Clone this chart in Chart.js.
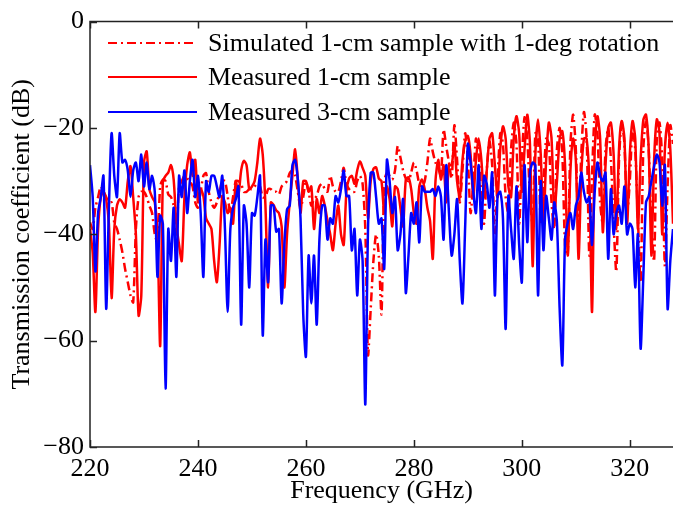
<!DOCTYPE html>
<html>
<head>
<meta charset="utf-8">
<script src="https://cdn.jsdelivr.net/npm/chart.js@4.4.0/dist/chart.umd.min.js"></script>
<style>
  html, body { margin: 0; padding: 0; background: #fff; }
  canvas { display: block; }
</style>
</head>
<body>
<canvas id="chart" width="673" height="507"></canvas>
<script>
// readings taken every 0.5 GHz from 220 GHz
const fStart = 220, fStep = 0.5;
const xTicks = [220, 240, 260, 280, 300, 320];
const yTicks = [-80, -60, -40, -20, 0];
const names = [
  'Simulated 1-cm sample with 1-deg rotation',
  'Measured 1-cm sample',
  'Measured 3-cm sample'
];

const simulated1cm = [
  -37.8, -39, -35, -33, -31, -32, -33, -34, -34, -37.8,
  -39, -41, -43.4, -46.5, -49, -51.5, -52.8, -39, -33, -32,
  -32, -33, -34.6, -36, -40, -41.5, -31, -29.7, -30, -32.5,
  -33, -34.6, -40, -31, -30, -29, -29.5, -30, -31, -34,
  -35, -32, -29, -28.5, -32, -34, -35, -34, -32, -30,
  -30, -32.8, -36, -33, -30, -30, -30.5, -32, -32, -31.5,
  -31.5, -31, -30.5, -31, -33, -33, -31.5, -31.5, -32, -32,
  -32.5, -31, -30.5, -30, -28.5, -28, -29, -32, -35, -33,
  -30, -32, -34.6, -33.4, -32.8, -31, -30.5, -31.5, -32, -29,
  -31, -32, -32, -30, -27.5, -30.5, -31.5, -32, -32, -30,
  -29, -30.5, -39, -62.7, -54, -45, -40, -44, -55, -30,
  -28.5, -29, -29.7, -28, -23.4, -25.5, -28, -29.5, -30, -28.4,
  -26.5, -28, -30.5, -31, -30, -26.5, -22, -24.5, -26.5, -27.5,
  -29, -20.3, -23.5, -26.5, -29.5, -19.5, -26, -34, -28, -21,
  -26, -36, -30, -22, -25, -33, -38, -28, -22.5, -27,
  -40, -30, -21, -23, -33, -36, -24, -19, -23, -38,
  -26, -18, -22, -33, -38, -21, -22, -38, -31, -22,
  -23, -34, -39, -24, -20, -25, -42, -44, -23, -17.5,
  -24, -40, -25, -17, -22, -44, -29, -17.5, -21, -34,
  -38, -24, -20, -26, -38, -47, -26, -19, -23, -36,
  -30, -20, -24, -37, -49, -24, -18.5, -24, -38, -45,
  -22, -19, -26, -46, -31, -19.5, -23
];

const measured1cm = [
  -39, -43.5, -54.6, -39, -33, -32, -33.4, -38, -52, -39,
  -34.6, -33.4, -34, -35, -30, -27.2, -33, -40, -55.3, -51.5,
  -26.5, -24.4, -31.5, -33, -34, -40, -61, -30, -29, -28.4,
  -27, -29.7, -38, -42, -45, -33, -27, -24.6, -29, -26,
  -34, -31.5, -32.8, -37, -38, -39, -45, -49, -42, -32.8,
  -34, -36, -35, -38, -30, -32.5, -28, -26.2, -27, -31.5,
  -31, -30, -26.5, -22, -25, -34.6, -50, -34, -34.5, -35.5,
  -36, -38.5, -50, -40, -34, -29, -24, -29.7, -36, -30,
  -30, -32, -31, -39, -33.4, -36, -32.8, -34.6, -37.5, -40,
  -43, -38, -34.6, -40, -42, -32, -29.5, -29, -30.5, -28,
  -26.3, -27.5, -29, -37, -30, -27.7, -27.4, -29.5, -30, -36,
  -31, -33.4, -38.5, -31, -31.5, -35, -38.5, -29.7, -29.3, -31.5,
  -36, -38, -31, -29.7, -31.5, -35, -37.5, -44.6, -30, -26,
  -29.7, -27, -34, -27, -27, -23, -30, -33, -26, -22.5,
  -21.5, -25, -33, -26, -22, -26, -33, -28, -22, -21,
  -27, -33, -24, -19.7, -22, -31, -33, -22, -17.8, -21,
  -32, -24, -17.5, -23, -46, -25, -18.4, -25, -38, -26,
  -19, -22, -36, -30, -22, -20.6, -27, -44, -28, -22,
  -26, -44.6, -29, -22, -22, -30, -54.6, -24, -17.8, -22,
  -39.6, -27, -20, -19, -25, -39, -24, -18.7, -22, -38,
  -25, -18.7, -22, -39, -26, -18.5, -17.5, -24, -44, -26,
  -18.4, -21, -40, -24, -19, -24, -38
];

const measured3cm = [
  -27, -33, -47, -36, -33, -29, -54, -35, -21, -29,
  -33, -21, -26.5, -26, -28, -33, -28, -26.5, -30, -25,
  -31, -26.5, -31.5, -29, -32, -48, -36.5, -38, -69, -39,
  -45, -35, -48, -29, -33, -28, -36, -30, -26, -33,
  -29, -36, -48, -30, -32, -29, -29, -31, -33, -29,
  -39, -54.6, -39, -35, -33.4, -31, -57, -34.6, -38, -50,
  -36, -36.5, -33, -29, -59, -41, -49, -34.6, -34.6, -39.5,
  -39, -53, -42, -35.3, -34.6, -27, -26, -29.7, -37, -55,
  -63, -44, -53, -44, -57, -41, -34.6, -34.6, -41, -37,
  -38, -32.8, -34, -31.5, -28, -32.8, -32.8, -43, -39, -51.5,
  -41, -45, -72, -39, -28.4, -28.4, -33, -38, -37, -46.5,
  -26, -30, -36, -33, -43, -40, -33.4, -51, -44, -36,
  -38, -34, -41.5, -31, -32, -32, -32, -31.5, -32.8, -31,
  -32.8, -41, -27, -36, -44, -40, -33.4, -45, -53, -38.5,
  -23, -26.5, -32, -36, -27, -39, -29, -30.5, -35, -28.4,
  -51.5, -32.8, -32, -37, -57.8, -32.8, -39, -44.6, -31, -42,
  -49, -27, -41.5, -28.4, -26.5, -27, -51.5, -30, -43, -32.8,
  -37, -41, -34, -37.8, -54, -64.6, -41, -37.8, -36, -39,
  -34.6, -33, -28.4, -32, -34, -33, -42, -32, -26.5, -29,
  -30, -28.4, -44.6, -31.5, -40, -36, -34.6, -38, -31, -40,
  -38, -39, -50, -40, -61.5, -48, -34, -32.8, -30, -27.2,
  -25, -26.5, -34.6, -27, -54, -45, -39
];

const freq = measured3cm.map((_, i) => fStart + i * fStep);
const pts = arr => arr.map((v, i) => ({x: freq[i], y: v}));

const FONT = 'Liberation Serif, Times New Roman, serif';
const dashDot = [9, 4, 2, 4];

// box, inward ticks and the legend
const frame = {
  id: 'frame',
  afterDatasetsDraw(chart) {
    const {ctx, chartArea: a, scales: {x, y}} = chart;
    ctx.save();
    ctx.strokeStyle = '#222';
    ctx.lineWidth = 1.5;
    ctx.beginPath();
    ctx.moveTo(a.right, a.top);
    ctx.lineTo(a.left, a.top);
    ctx.lineTo(a.left, a.bottom);
    ctx.lineTo(a.right, a.bottom);
    xTicks.forEach(v => {
      const px = Math.round(x.getPixelForValue(v)) + 0.5;
      ctx.moveTo(px, a.bottom); ctx.lineTo(px, a.bottom - 7);
      ctx.moveTo(px, a.top); ctx.lineTo(px, a.top + 7);
    });
    yTicks.forEach(v => {
      const py = Math.round(y.getPixelForValue(v)) + 0.5;
      ctx.moveTo(a.left, py); ctx.lineTo(a.left + 7, py);
    });
    ctx.stroke();

    const rows = [43, 77, 112];
    const styles = [
      {c: '#ff0000', d: dashDot},
      {c: '#ff0000', d: []},
      {c: '#0000ff', d: []}
    ];
    ctx.font = '26px ' + FONT;
    ctx.textBaseline = 'middle';
    ctx.fillStyle = '#000';
    rows.forEach((ry, i) => {
      ctx.strokeStyle = styles[i].c;
      ctx.lineWidth = 2;
      ctx.setLineDash(styles[i].d);
      ctx.beginPath();
      ctx.moveTo(108, ry); ctx.lineTo(197, ry);
      ctx.stroke();
      ctx.setLineDash([]);
      ctx.fillText(names[i], 208, ry + 1);
    });
    ctx.restore();
  }
};

new Chart(document.getElementById('chart').getContext('2d'), {
  type: 'line',
  data: {
    datasets: [
      {label: names[0], data: pts(simulated1cm), borderColor: '#ff0000', borderWidth: 2.5, borderDash: dashDot, order: 3},
      {label: names[1], data: pts(measured1cm), borderColor: '#ff0000', borderWidth: 2.5, order: 2},
      {label: names[2], data: pts(measured3cm), borderColor: '#0000ff', borderWidth: 2.5, order: 1}
    ]
  },
  options: {
    responsive: false,
    animation: false,
    devicePixelRatio: 1,
    elements: { point: { radius: 0 }, line: { tension: 0.25, borderJoinStyle: 'round' } },
    layout: { padding: { top: 20, right: 0, left: 0, bottom: 0 } },
    plugins: { legend: { display: false }, tooltip: { enabled: false } },
    scales: {
      x: {
        type: 'linear', min: 220, max: 328,
        afterBuildTicks: s => { s.ticks = xTicks.map(v => ({value: v})); },
        afterFit: s => { s.height = 60; },
        grid: { display: false, drawTicks: false },
        border: { display: false },
        ticks: { color: '#000', font: { family: FONT, size: 26 }, padding: 7, maxRotation: 0 },
        title: { display: true, text: 'Frequency (GHz)', color: '#000', font: { family: FONT, size: 26 }, padding: { top: 0, bottom: 0 } }
      },
      y: {
        min: -80, max: 0,
        afterBuildTicks: s => { s.ticks = yTicks.map(v => ({value: v})); },
        afterFit: s => { s.width = 90; },
        grid: { display: false, drawTicks: false },
        border: { display: false },
        ticks: { color: '#000', font: { family: FONT, size: 26 }, padding: 6,
          callback: v => String(v).replace('-', '\u2212') },
        title: { display: true, text: 'Transmission coefficient (dB)', color: '#000', font: { family: FONT, size: 26 }, padding: { top: 7, bottom: 0 } }
      }
    }
  },
  plugins: [frame]
});
</script>
</body>
</html>
